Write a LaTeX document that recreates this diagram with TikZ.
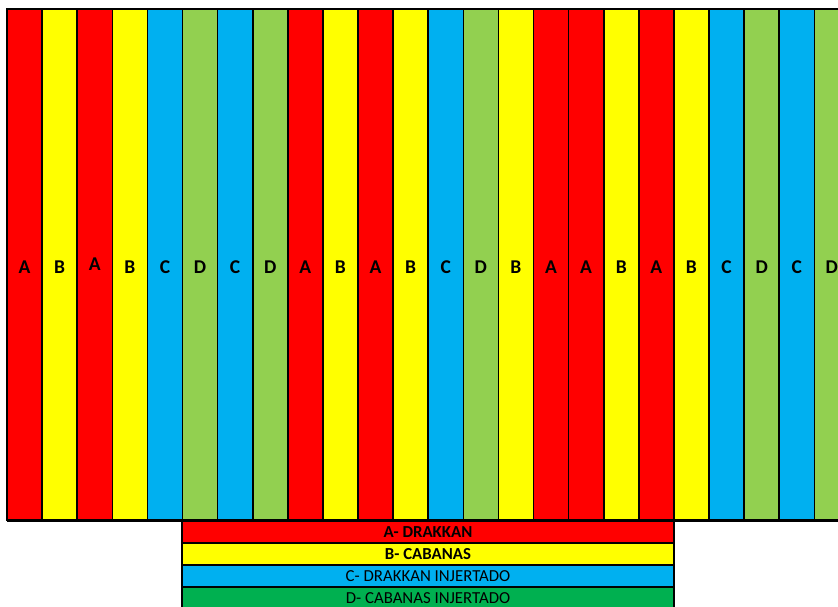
\documentclass[tikz,border=0pt]{standalone}
\usepackage{fontspec}
\setmainfont{Carlito}
\usetikzlibrary{positioning}
\definecolor{rojo}{HTML}{FF0000}
\definecolor{amarillo}{HTML}{FFFF00}
\definecolor{azul}{HTML}{00B0F0}
\definecolor{verde}{HTML}{92D050}
\definecolor{verdeosc}{HTML}{00B050}
\colorlet{colA}{rojo}
\colorlet{colB}{amarillo}
\colorlet{colC}{azul}
\colorlet{colD}{verde}

\begin{document}
\begin{tikzpicture}[x=1pt, y=-1pt, line width=1.6pt,
    leyenda/.style={draw, outer sep=0pt, inner sep=0pt, minimum width=492pt,
      minimum height=22pt, font=\fontsize{16.8}{18}\selectfont}]
    \useasboundingbox (0,0) rectangle (838,606);

    % Stripes
    \foreach \l [count=\i from 0, evaluate=\i as \yy using {\i==2 ? 264 : 267}]
        in {A,B,A,B,C,D,C,D,A,B,A,B,C,D,B,A,A,B,A,B,C,D,C,D} {
      \draw[fill=col\l] (7+35.1*\i, 9) rectangle ++(35.1, 511);
      \node[font=\fontsize{19.5}{21}\selectfont\bfseries] (s\i) at (24.55+35.1*\i, \yy) {\l};
    }
    \draw[line width=3pt] (7,520) -- (850,520);

    % Legend
    \node[leyenda, fill=colA] (la) at (428,532) {\bfseries A- DRAKKAN};
    \node[leyenda, fill=colB, below=0pt of la] (lb) {\bfseries B- CABANAS};
    \node[leyenda, fill=colC, below=0pt of lb] (lc) {C- DRAKKAN INJERTADO};
    \node[leyenda, fill=verdeosc, below=0pt of lc] (ld) {D- CABANAS INJERTADO};
\end{tikzpicture}
\end{document}
